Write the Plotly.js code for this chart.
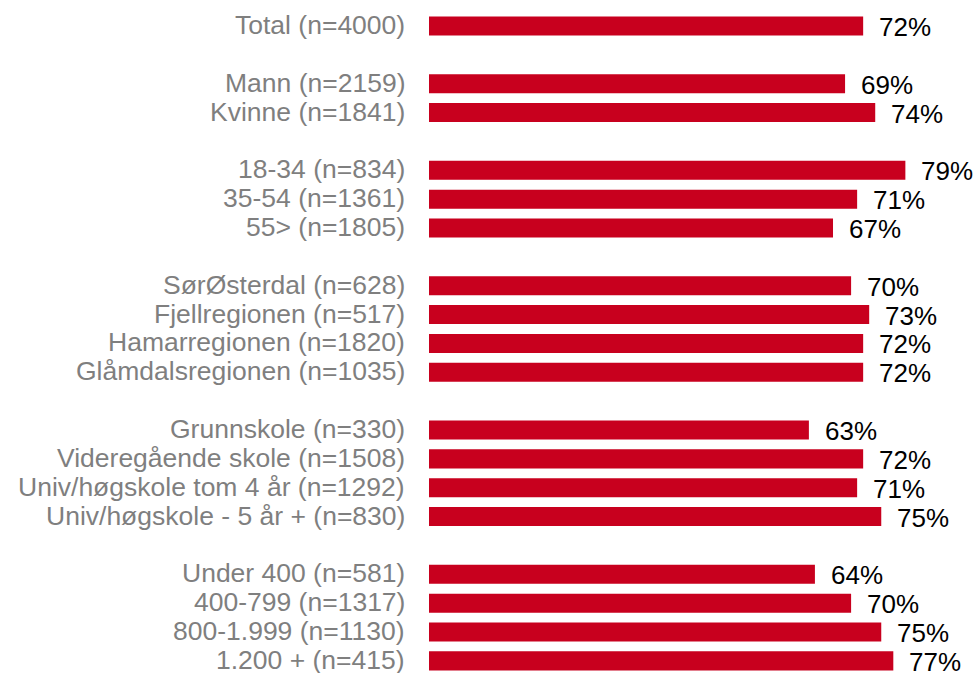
<!DOCTYPE html>
<html>
<head>
<meta charset="utf-8">
<script src="https://cdn.plot.ly/plotly-3.0.1.min.js"></script>
<style>html,body{margin:0;padding:0;background:#fff;}#chart{width:979px;height:673px;}</style>
</head>
<body>
<div id="chart"></div>
<script>
const labels = [
  "Total (n=4000)",
  "Mann (n=2159)", "Kvinne (n=1841)",
  "18-34 (n=834)", "35-54 (n=1361)", "55> (n=1805)",
  "SørØsterdal (n=628)", "Fjellregionen (n=517)", "Hamarregionen (n=1820)", "Glåmdalsregionen (n=1035)",
  "Grunnskole (n=330)", "Videregående skole (n=1508)", "Univ/høgskole tom 4 år (n=1292)", "Univ/høgskole - 5 år + (n=830)",
  "Under 400 (n=581)", "400-799 (n=1317)", "800-1.999 (n=1130)", "1.200 + (n=415)"
];
const values = [72, 69, 74, 79, 71, 67, 70, 73, 72, 72, 63, 72, 71, 75, 64, 70, 75, 77];
const valueLabels = ["72%", "69%", "74%", "79%", "71%", "67%", "70%", "73%", "72%", "72%", "63%", "72%", "71%", "75%", "64%", "70%", "75%", "77%"];
const groupSizes = [1, 2, 3, 4, 4, 4];

// slot index for each row: one empty slot between groups
const slots = [];
let s = 0;
groupSizes.forEach(n => { for (let i = 0; i < n; i++) slots.push(s++); s++; });

const FONT = 'Liberation Sans, Arial, sans-serif';

const trace = {
  type: 'bar', orientation: 'h',
  x: values, y: slots,
  width: 0.66,
  marker: {color: '#C8001E'},
  hoverinfo: 'skip'
};

const valueAnnotations = values.map((v, i) => ({
  x: v, y: slots[i], xref: 'x', yref: 'y',
  text: valueLabels[i], showarrow: false,
  xanchor: 'left', yanchor: 'middle', xshift: 14, yshift: -1,
  font: {family: FONT, size: 26, color: '#000000'}
}));

const categoryAnnotations = labels.map((t, i) => ({
  x: 0, y: slots[i], xref: 'paper', yref: 'y',
  text: t, showarrow: false,
  xanchor: 'right', yanchor: 'middle', xshift: -22, yshift: 1,
  font: {family: FONT, size: 26.5, color: '#7F7F7F'}
}));

const layout = {
  width: 979, height: 673,
  margin: {l: 429, r: 0, t: 0, b: 0, pad: 0},
  paper_bgcolor: '#ffffff', plot_bgcolor: '#ffffff',
  showlegend: false,
  xaxis: {range: [0, 91.21], showgrid: false, zeroline: false, showline: false, showticklabels: false, ticks: ''},
  yaxis: {
    range: [22.42, -0.901],
    showticklabels: false, ticks: '',
    showgrid: false, zeroline: false, showline: false
  },
  annotations: categoryAnnotations.concat(valueAnnotations)
};

Plotly.newPlot('chart', [trace], layout, {displayModeBar: false, staticPlot: true});
</script>
</body>
</html>
